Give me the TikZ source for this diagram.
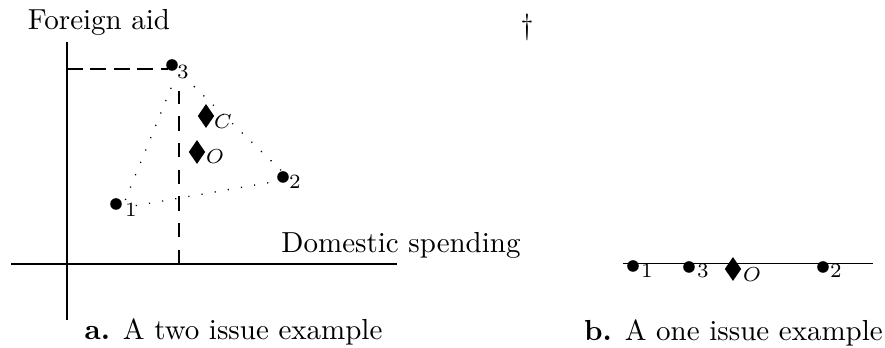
\documentclass[tikz,border=0pt]{standalone}
\usepackage{amsmath,amssymb}
\usetikzlibrary{positioning, shapes.geometric}

\begin{document}
\begin{tikzpicture}[x=0.345pt, y=0.345pt,
  ptdot/.style={circle, fill=black, inner sep=0pt, minimum size=4pt},
  idealpt/.style={diamond, fill=black, inner sep=0pt, minimum width=5.8pt, minimum height=8.4pt},
  ptlabel/.style={inner sep=0pt, font=\scriptsize},
  hguide/.style={line width=0.5pt, dash pattern=on 5.4pt off 2.7pt},
  vguide/.style={line width=0.5pt, dash pattern=on 4.9pt off 4.3pt},
  hull/.style={line width=0.45pt, dash pattern=on 0.4pt off 4.2pt}]

% Frame
\useasboundingbox (0,0) rectangle (885,348);

% === LEFT: two issues ===
% Axes
\draw[line width=0.5pt] (67,28) -- (67,306);
\draw[line width=0.5pt] (11,84) -- (397,84);
\node[anchor=base] (yname) at (99,318) {Foreign aid};
\node[anchor=base] (xname) at (401,95) {Domestic spending};

% Ideal points (true positions)
\coordinate (v1) at (122,140);
\coordinate (v2) at (290,169);
\coordinate (v3) at (178,277);

% Projections of voter 3 onto the axes
\draw[hguide] (67,279) -- (168,279);
\draw[vguide] (179,84) -- (179,257);

% Pareto set
\draw[hull, shorten <=3pt, shorten >=3pt] (v1) -- (v3);
\draw[hull, shorten <=3pt, shorten >=3pt] (v3) -- (v2);
\draw[hull, shorten <=3pt, shorten >=3pt] (v2) -- (v1);

% Voters
\node[ptdot] (a1) at (116,144) {};
\node[ptdot] (a2) at (283,171) {};
\node[ptdot] (a3) at (172,283) {};
\node[ptlabel] (a1lab) at (131,138) {1};
\node[ptlabel] (a2lab) at (295,166) {2};
\node[ptlabel] (a3lab) at (183,276) {3};

% Outcomes
\node[idealpt] (aC) at (206,232) {};
\node[idealpt] (aO) at (197,196) {};
\node[ptlabel] (aClab) at (223,226) {$C$};
\node[ptlabel] (aOlab) at (215,191) {$O$};

\node[anchor=base] (capa) at (233.5,8) {\textbf{a.} A two issue example};

% Footnote mark
\node (dagmark) at (527,321) {\dag};

% === RIGHT: one issue ===
\draw[line width=0.5pt] (623,84.7) -- (873,84.7);

\node[ptdot] (b1) at (633,82) {};
\node[ptdot] (b3) at (689,81) {};
\node[ptdot] (b2) at (823,81) {};
\node[idealpt] (bO) at (733,79) {};
\node[ptlabel] (b1lab) at (647,77) {1};
\node[ptlabel] (b3lab) at (703,77) {3};
\node[ptlabel] (b2lab) at (836,77) {2};
\node[ptlabel] (bOlab) at (752,73) {$O$};

\node[anchor=base] (capb) at (733.5,7) {\textbf{b.} A one issue example};

\end{tikzpicture}
\end{document}
